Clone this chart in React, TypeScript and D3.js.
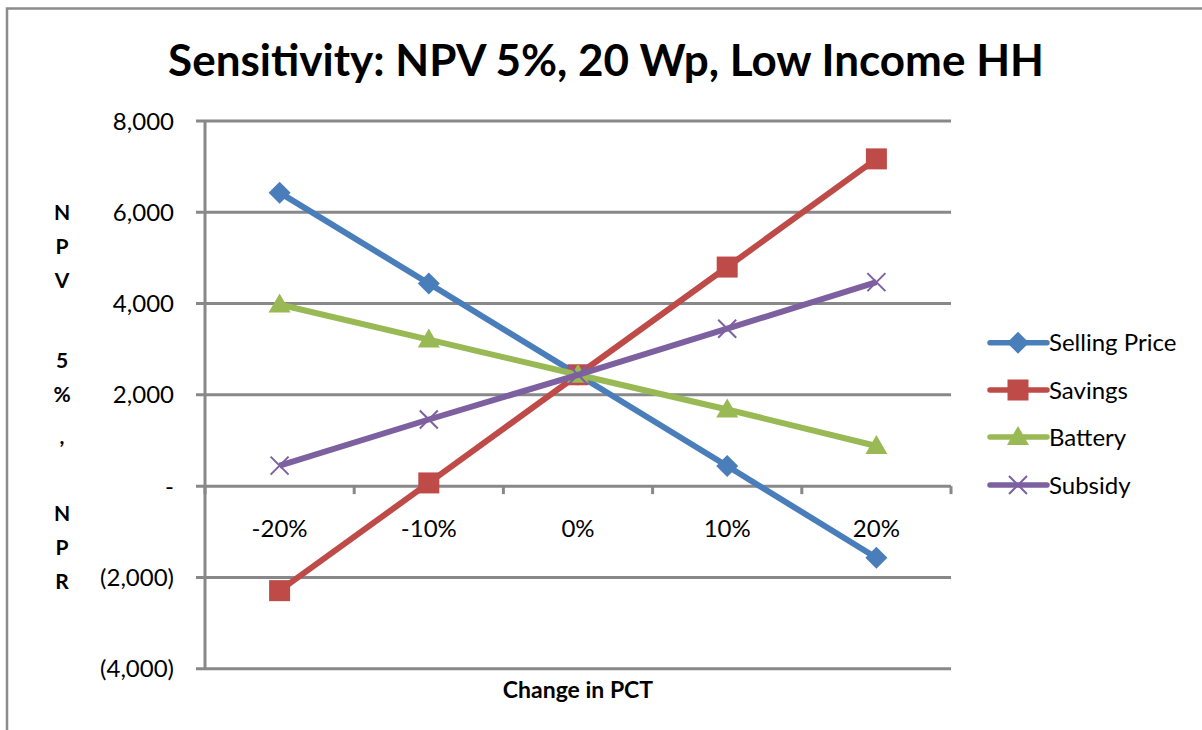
import React from "react";
import * as d3 from "d3";

const categories = ["-20%", "-10%", "0%", "10%", "20%"];
const sellingPrice = [6430, 4440, 2440, 440, -1570];
const savings = [-2290, 70, 2440, 4800, 7170];
const battery = [3980, 3210, 2440, 1680, 880];
const subsidy = [450, 1460, 2440, 3450, 4470];
const yTicks = [-4000, -2000, 0, 2000, 4000, 6000, 8000];
const yAxisTitleChars = ["N", "P", "V", "5", "%", ",", "N", "P", "R"];
const yAxisTitleY = [212, 246, 280, 360, 394, 436, 513, 547, 581];

const series = [
  { name: "Selling Price", values: sellingPrice, color: "#4A7EBB", marker: "diamond" },
  { name: "Savings", values: savings, color: "#BE4B48", marker: "square" },
  { name: "Battery", values: battery, color: "#98B954", marker: "triangle" },
  { name: "Subsidy", values: subsidy, color: "#7D60A0", marker: "x" },
];

const FONT = "Lato, 'Open Sans', sans-serif";
const GRID = "#888888";

function Marker({ type, x, y, color }: { type: string; x: number; y: number; color: string }) {
  if (type === "diamond") {
    const s = 11;
    return <path d={`M${x},${y - s}L${x + s},${y}L${x},${y + s}L${x - s},${y}Z`} fill={color} />;
  }
  if (type === "square") {
    const s = 10.5;
    return <rect x={x - s} y={y - s} width={2 * s} height={2 * s} fill={color} />;
  }
  if (type === "triangle") {
    const s = 11;
    return <path d={`M${x},${y - s}L${x + s},${y + 8}L${x - s},${y + 8}Z`} fill={color} />;
  }
  const s = 9;
  return (
    <path d={`M${x - s},${y - s}L${x + s},${y + s}M${x - s},${y + s}L${x + s},${y - s}`} stroke={color} strokeWidth={2} />
  );
}

export default function App() {
  const W = 1202, H = 730;
  const left = 205, right = 951, top = 121, bottom = 668.7;
  const x = d3.scaleBand().domain(categories).range([left, right]);
  const y = d3.scaleLinear().domain([-4000, 8000]).range([bottom, top]);
  const line = d3
    .line<number>()
    .x((_, i) => (x(categories[i]) as number) + x.bandwidth() / 2)
    .y((d) => y(d));
  const fmt = (v: number) => {
    if (v === 0) return "-";
    const s = d3.format(",")(Math.abs(v));
    return v < 0 ? `(${s})` : s;
  };
  const y0 = y(0);
  const bounds = categories.map((c) => x(c) as number).concat([right]);

  return (
    <svg width={W} height={H} style={{ position: "absolute", left: 0, top: 0 }}>
      <rect x={0} y={0} width={W} height={H} fill="#fff" />
      <path d={`M7,${H}V8.5H${W}`} fill="none" stroke="#8c8c8c" strokeWidth={2.5} />
      <text x={606} y={76} textAnchor="middle" fontFamily={FONT} fontWeight="bold" fontSize={44} fill="#000">
        Sensitivity: NPV 5%, 20 Wp, Low Income HH
      </text>
      {yTicks.map((t) => (
        <g key={t}>
          <line x1={196} x2={right} y1={y(t)} y2={y(t)} stroke={GRID} strokeWidth={3} />
          <text x={174} y={y(t) + 8.5} textAnchor="end" fontFamily={FONT} fontSize={24} fill="#000">
            {fmt(t)}
          </text>
        </g>
      ))}
      <line x1={left} x2={left} y1={top} y2={bottom} stroke={GRID} strokeWidth={3} />
      {bounds.map((b, i) => (
        <line key={i} x1={b} x2={b} y1={y0} y2={y0 + 8} stroke={GRID} strokeWidth={3} />
      ))}
      {categories.map((c) => (
        <text key={c} x={(x(c) as number) + x.bandwidth() / 2} y={537} textAnchor="middle" fontFamily={FONT} fontSize={24} fill="#000">
          {c}
        </text>
      ))}
      {yAxisTitleChars.map((ch, i) => (
        <text key={i} x={62} y={yAxisTitleY[i] + 7.5} textAnchor="middle" fontFamily={FONT} fontWeight="bold" fontSize={21} fill="#000">
          {ch}
        </text>
      ))}
      <text x={578} y={698} textAnchor="middle" fontFamily={FONT} fontWeight="bold" fontSize={23} fill="#000">
        Change in PCT
      </text>
      {series.map((s) => (
        <g key={s.name}>
          <path d={line(s.values) as string} fill="none" stroke={s.color} strokeWidth={6} strokeLinejoin="round" />
          {s.values.map((v, i) => (
            <Marker key={i} type={s.marker} x={(x(categories[i]) as number) + x.bandwidth() / 2} y={y(v)} color={s.color} />
          ))}
        </g>
      ))}
      {series.map((s, i) => {
        const ly = [342.7, 390, 437, 485][i];
        return (
          <g key={s.name}>
            <line x1={990} x2={1047} y1={ly} y2={ly} stroke={s.color} strokeWidth={5.5} strokeLinecap="round" />
            <Marker type={s.marker} x={1018} y={ly} color={s.color} />
            <text x={1049} y={ly + 8.5} fontFamily={FONT} fontSize={24} fill="#000">
              {s.name}
            </text>
          </g>
        );
      })}
    </svg>
  );
}
